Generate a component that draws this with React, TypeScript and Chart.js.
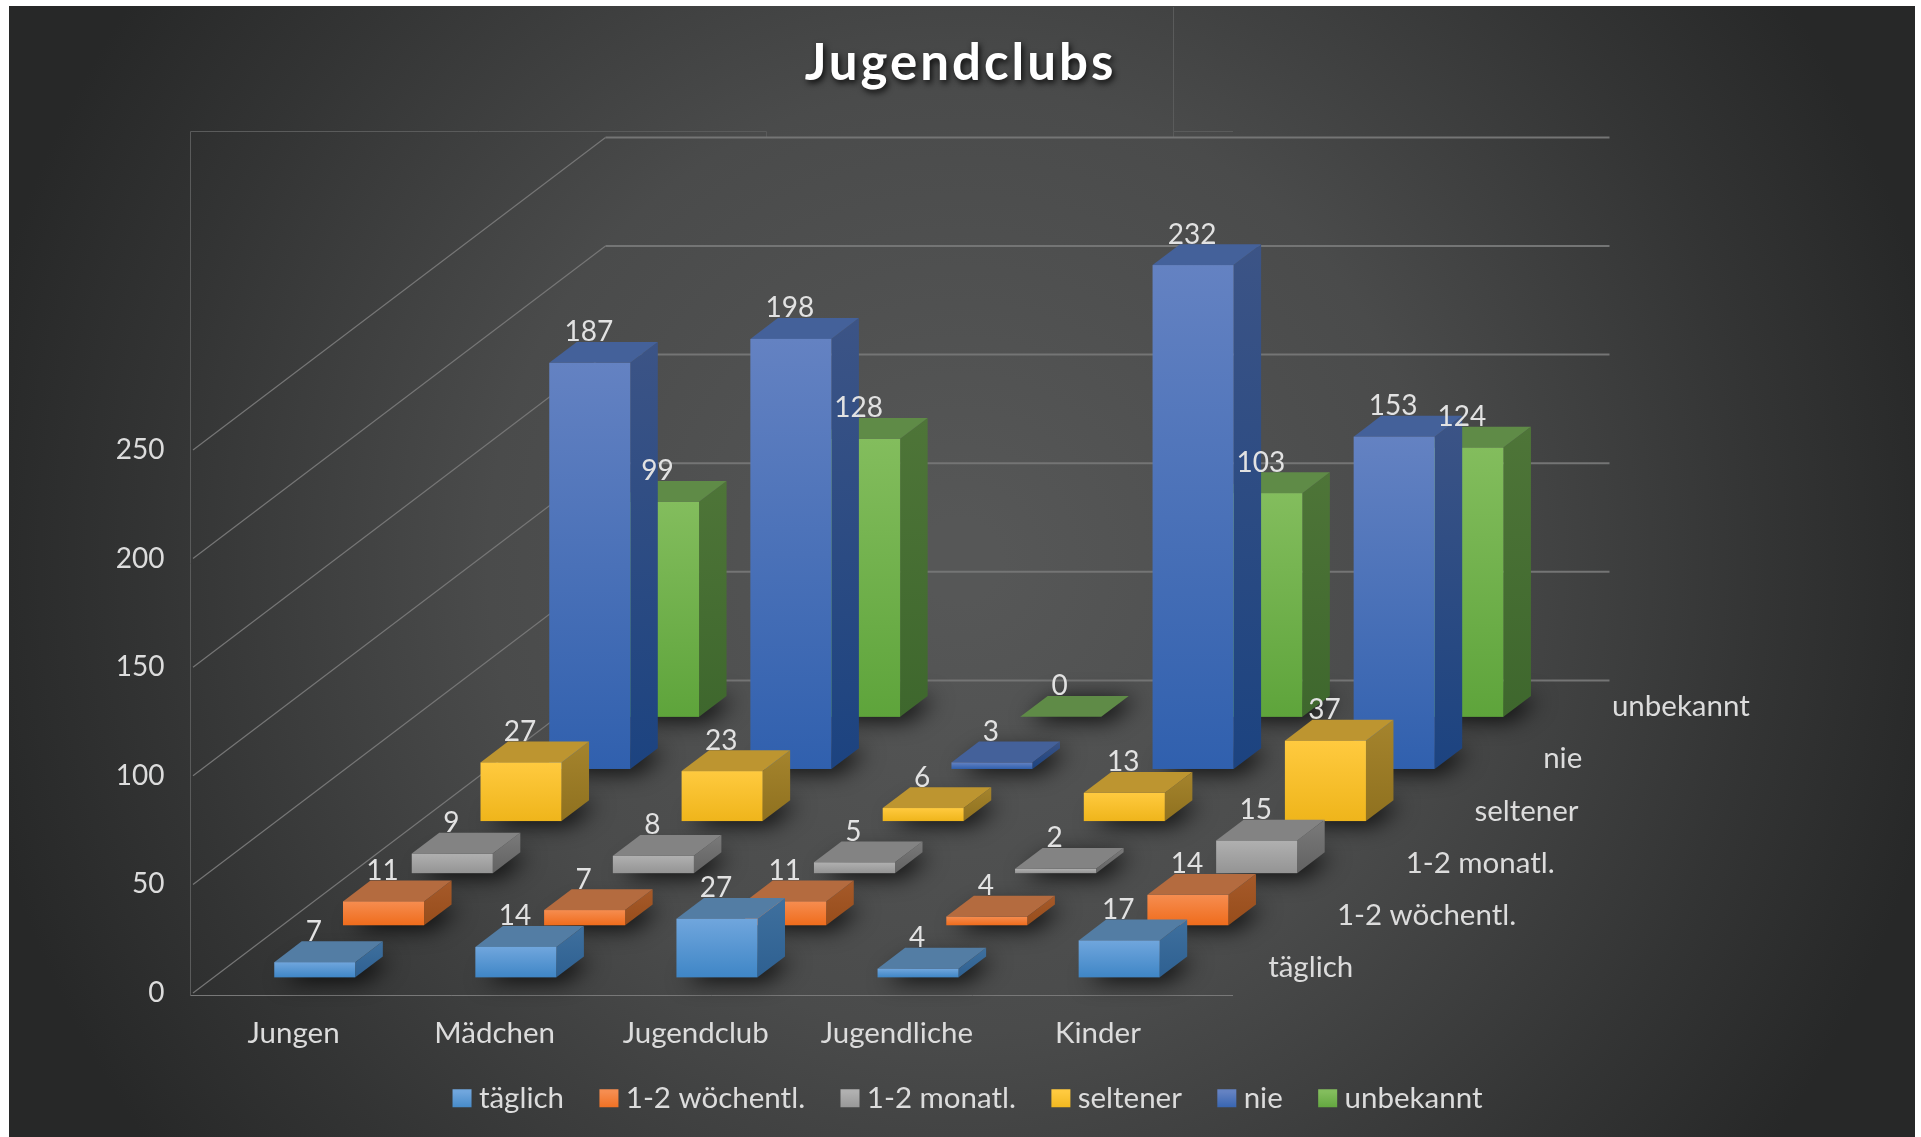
import React, { useEffect, useRef } from "react";
import { Chart, registerables } from "chart.js";

Chart.register(...registerables);

const titleText = "Jugendclubs";
const categories = ["Jungen", "Mädchen", "Jugendclub", "Jugendliche", "Kinder"];
const seriesNames = ["täglich", "1-2 wöchentl.", "1-2 monatl.", "seltener", "nie", "unbekannt"];
const taeglich = [7, 14, 27, 4, 17];
const woechentl = [11, 7, 11, 4, 14];
const monatl = [9, 8, 5, 2, 15];
const seltener = [27, 23, 6, 13, 37];
const nie = [187, 198, 3, 232, 153];
const unbekannt = [99, 128, 0, 103, 124];
const seriesValues = [taeglich, woechentl, monatl, seltener, nie, unbekannt];
const yTicks = [0, 50, 100, 150, 200, 250];

// [front top, front bottom, top face, side top, side bottom]
const palette = [
  ["#70a6dd", "#3f86c6", "#537da4", "#3f709e", "#2e6091"],
  ["#f68d50", "#ef6c1c", "#b46b3f", "#a65a2a", "#974d1b"],
  ["#b0b0b0", "#949494", "#838383", "#7a7a7a", "#626262"],
  ["#ffca3f", "#efb51b", "#bd9530", "#a5842d", "#8f711f"],
  ["#6482c2", "#3060ae", "#44619a", "#3c5486", "#1c4380"],
  ["#83bd5d", "#5ea43b", "#5f8b47", "#4e7538", "#3e672d"],
];

const FONT = "Lato, 'Open Sans', sans-serif";
const TEXT = "#dcdcdc";
const TEXT_SIZE = 29.5;
const DIGIT_SIZE = 28;
const SLOT_X = 68.75;
const SLOT_Y = -52.1;
const BAR_DEPTH = 0.4;
const BAR_GAP = 0.3;
const LEGEND_PAD = 28;

const scene3d = {
  id: "scene3d",
  beforeDraw(chart: any) {
    const { ctx } = chart;
    const g = ctx.createRadialGradient(960, 560, 40, 960, 560, 1000);
    g.addColorStop(0, "#565757");
    g.addColorStop(0.45, "#4a4b4b");
    g.addColorStop(0.8, "#333434");
    g.addColorStop(1, "#272828");
    ctx.save();
    ctx.fillStyle = g;
    ctx.fillRect(9, 6, 1906, 1131);
    ctx.restore();
  },
  afterLayout(chart: any) {
    const leg = chart.legend;
    if (leg) {
      leg.left += 10.7;
      leg.right += 10.7;
      const h = leg.height;
      leg.top = 1101.5 - LEGEND_PAD - 18;
      leg.bottom = leg.top + h;
      if (!leg.__wrapped) {
        leg.__wrapped = true;
        const origLeg = leg.draw.bind(leg);
        leg.draw = () => {
          const c = chart.ctx;
          const ft = c.fillText;
          c.fillText = function (t: string, x: number, y: number, m?: number) {
            ft.call(c, t, x - 7.4, y, m);
          };
          origLeg();
          delete c.fillText;
        };
      }
    }
    const tb = chart.titleBlock;
    if (tb && !tb.__wrapped) {
      tb.__wrapped = true;
      const orig = tb.draw.bind(tb);
      tb.draw = () => {
        const c = chart.ctx;
        c.save();
        c.shadowColor = "rgba(0,0,0,0.85)";
        c.shadowBlur = 6;
        c.shadowOffsetX = 2;
        c.shadowOffsetY = 3;
        c.letterSpacing = "3px";
        orig();
        c.restore();
      };
    }
  },
  beforeDatasetsDraw(chart: any) {
    const { ctx, chartArea, scales } = chart;
    const depthX = SLOT_X * seriesNames.length;
    const depthY = SLOT_Y * seriesNames.length;
    const { left, right, bottom } = chartArea;
    const y = scales.y;

    // faint plot and title frames
    ctx.save();
    ctx.strokeStyle = "#5a5b5b";
    ctx.lineWidth = 1;
    ctx.beginPath();
    ctx.moveTo(190.5, 995.5);
    ctx.lineTo(190.5, 131.5);
    ctx.lineTo(766.5, 131.5);
    ctx.lineTo(766.5, 137);
    ctx.moveTo(1173.5, 137);
    ctx.lineTo(1173.5, 131.5);
    ctx.lineTo(1233, 131.5);
    ctx.moveTo(1173.5, 131.5);
    ctx.lineTo(1173.5, 7);
    ctx.stroke();
    ctx.strokeStyle = "#787878";
    ctx.beginPath();
    ctx.moveTo(190.5, 995.5);
    ctx.lineTo(1233, 995.5);
    ctx.stroke();

    // side wall and back wall gridlines
    yTicks.forEach((t) => {
      const py = y.getPixelForValue(t);
      ctx.strokeStyle = "#767676";
      ctx.lineWidth = 1.2;
      ctx.beginPath();
      ctx.moveTo(left, py);
      ctx.lineTo(left + depthX, py + depthY);
      ctx.stroke();
      ctx.strokeStyle = "#747575";
      ctx.lineWidth = 2;
      ctx.beginPath();
      ctx.moveTo(left + depthX, py + depthY);
      ctx.lineTo(right + depthX - 1.5, py + depthY);
      ctx.stroke();
    });

    // series names along the depth axis
    ctx.font = `${TEXT_SIZE}px ${FONT}`;
    ctx.fillStyle = TEXT;
    ctx.textAlign = "left";
    ctx.textBaseline = "middle";
    seriesNames.forEach((name, i) => {
      const ox = (i + BAR_GAP) * SLOT_X;
      const oy = (i + BAR_GAP) * SLOT_Y;
      ctx.fillText(name, right + ox + 49, bottom + oy - 10);
    });
    ctx.restore();

    const labels: any[] = [];
    for (let s = seriesNames.length - 1; s >= 0; s--) {
      const meta = chart.getDatasetMeta(s);
      const ox = (s + BAR_GAP) * SLOT_X + 0.6;
      const oy = (s + BAR_GAP) * SLOT_Y;
      const dx = BAR_DEPTH * SLOT_X;
      const dy = BAR_DEPTH * SLOT_Y;
      const [fTop, fBot, topC, sTop, sBot] = palette[s];
      meta.data.forEach((el: any, idx: number) => {
        const x0 = el.x - el.width / 2 + ox;
        const x1 = el.x + el.width / 2 + ox;
        const yb = el.base + oy;
        const yt = el.y + oy;
        ctx.save();
        // soft floor shadow only: the casting shape itself stays off the canvas
        const OFF = 4000;
        ctx.save();
        ctx.shadowColor = "rgba(0,0,0,0.9)";
        ctx.shadowBlur = 22;
        ctx.shadowOffsetX = OFF + 8;
        ctx.shadowOffsetY = 3;
        ctx.fillStyle = "#000";
        ctx.beginPath();
        ctx.moveTo(x0 - OFF, yb);
        ctx.lineTo(x1 - OFF, yb);
        ctx.lineTo(x1 + dx - OFF, yb + dy);
        ctx.lineTo(x0 + dx - OFF, yb + dy);
        ctx.closePath();
        ctx.fill();
        ctx.restore();
        // side
        const gs = ctx.createLinearGradient(0, yt + dy, 0, yb);
        gs.addColorStop(0, sTop);
        gs.addColorStop(1, sBot);
        ctx.fillStyle = gs;
        ctx.beginPath();
        ctx.moveTo(x1, yt);
        ctx.lineTo(x1 + dx, yt + dy);
        ctx.lineTo(x1 + dx, yb + dy);
        ctx.lineTo(x1, yb);
        ctx.closePath();
        ctx.fill();
        // top
        ctx.fillStyle = topC;
        ctx.beginPath();
        ctx.moveTo(x0, yt);
        ctx.lineTo(x1, yt);
        ctx.lineTo(x1 + dx, yt + dy);
        ctx.lineTo(x0 + dx, yt + dy);
        ctx.closePath();
        ctx.fill();
        // front
        const gf = ctx.createLinearGradient(0, yt, 0, Math.max(yb, yt + 1));
        gf.addColorStop(0, fTop);
        gf.addColorStop(1, fBot);
        ctx.fillStyle = gf;
        ctx.fillRect(x0, yt, x1 - x0, yb - yt);
        ctx.restore();
        labels.push({ x: (x0 + x1) / 2 - 1, y: yt - 30.5, text: String(seriesValues[s][idx]) });
      });
    }
    ctx.save();
    ctx.font = `${DIGIT_SIZE}px ${FONT}`;
    ctx.fillStyle = "#e2e2e2";
    ctx.textAlign = "center";
    ctx.textBaseline = "middle";
    labels.forEach((l) => ctx.fillText(l.text, l.x, l.y));
    ctx.restore();
    return false;
  },
};

export default function App() {
  const ref = useRef<HTMLCanvasElement>(null);
  useEffect(() => {
    const canvas = ref.current!;
    const chart = new Chart(canvas, {
      type: "bar",
      data: {
        labels: categories,
        datasets: seriesNames.map((name, i) => ({
          label: name,
          data: seriesValues[i],
          backgroundColor: palette[i][1],
          categoryPercentage: 1,
          barPercentage: 0.403,
        })),
      },
      plugins: [scene3d],
      options: {
        responsive: false,
        animation: false,
        devicePixelRatio: 1,
        layout: { padding: 0 },
        plugins: {
          tooltip: { enabled: false },
          title: {
            display: true,
            text: titleText,
            color: "#ffffff",
            font: { family: FONT, size: 51, weight: "bold" },
            padding: { top: 33, bottom: 355.8 },
          },
          legend: {
            position: "bottom",
            labels: {
              color: TEXT,
              font: { family: FONT, size: TEXT_SIZE },
              boxWidth: 19,
              boxHeight: 18,
              padding: LEGEND_PAD,
              generateLabels(chart: any) {
                return chart.data.datasets.map((d: any, i: number) => {
                  const g = chart.ctx.createLinearGradient(0, 1092, 0, 1110);
                  g.addColorStop(0, palette[i][0]);
                  g.addColorStop(1, palette[i][1]);
                  return {
                    text: d.label,
                    fillStyle: g,
                    strokeStyle: "transparent",
                    lineWidth: 0,
                    fontColor: TEXT,
                    datasetIndex: i,
                    hidden: false,
                  };
                });
              },
            },
          },
        },
        scales: {
          x: {
            stacked: true,
            grid: { display: false },
            border: { display: false },
            ticks: { color: TEXT, font: { family: FONT, size: TEXT_SIZE }, padding: 15, maxRotation: 0 },
            afterFit: (s: any) => {
              s.height = 144 - s.chart.legend.height;
            },
          },
          y: {
            min: 0,
            max: 250,
            grid: { display: false },
            border: { display: false },
            ticks: {
              color: TEXT,
              font: { family: FONT, size: DIGIT_SIZE },
              stepSize: 50,
              padding: 20.5,
            },
            afterFit: (s: any) => {
              s.width = 193;
            },
          },
          yRight: {
            position: "right",
            min: 0,
            max: 250,
            grid: { display: false },
            border: { display: false },
            ticks: { display: false },
            afterFit: (s: any) => {
              s.width = 722.5;
            },
          },
        },
      },
    } as any);
    return () => chart.destroy();
  }, []);
  return (
    <canvas
      ref={ref}
      width={1921}
      height={1137}
      style={{ position: "absolute", left: 0, top: 0, display: "block" }}
    />
  );
}
